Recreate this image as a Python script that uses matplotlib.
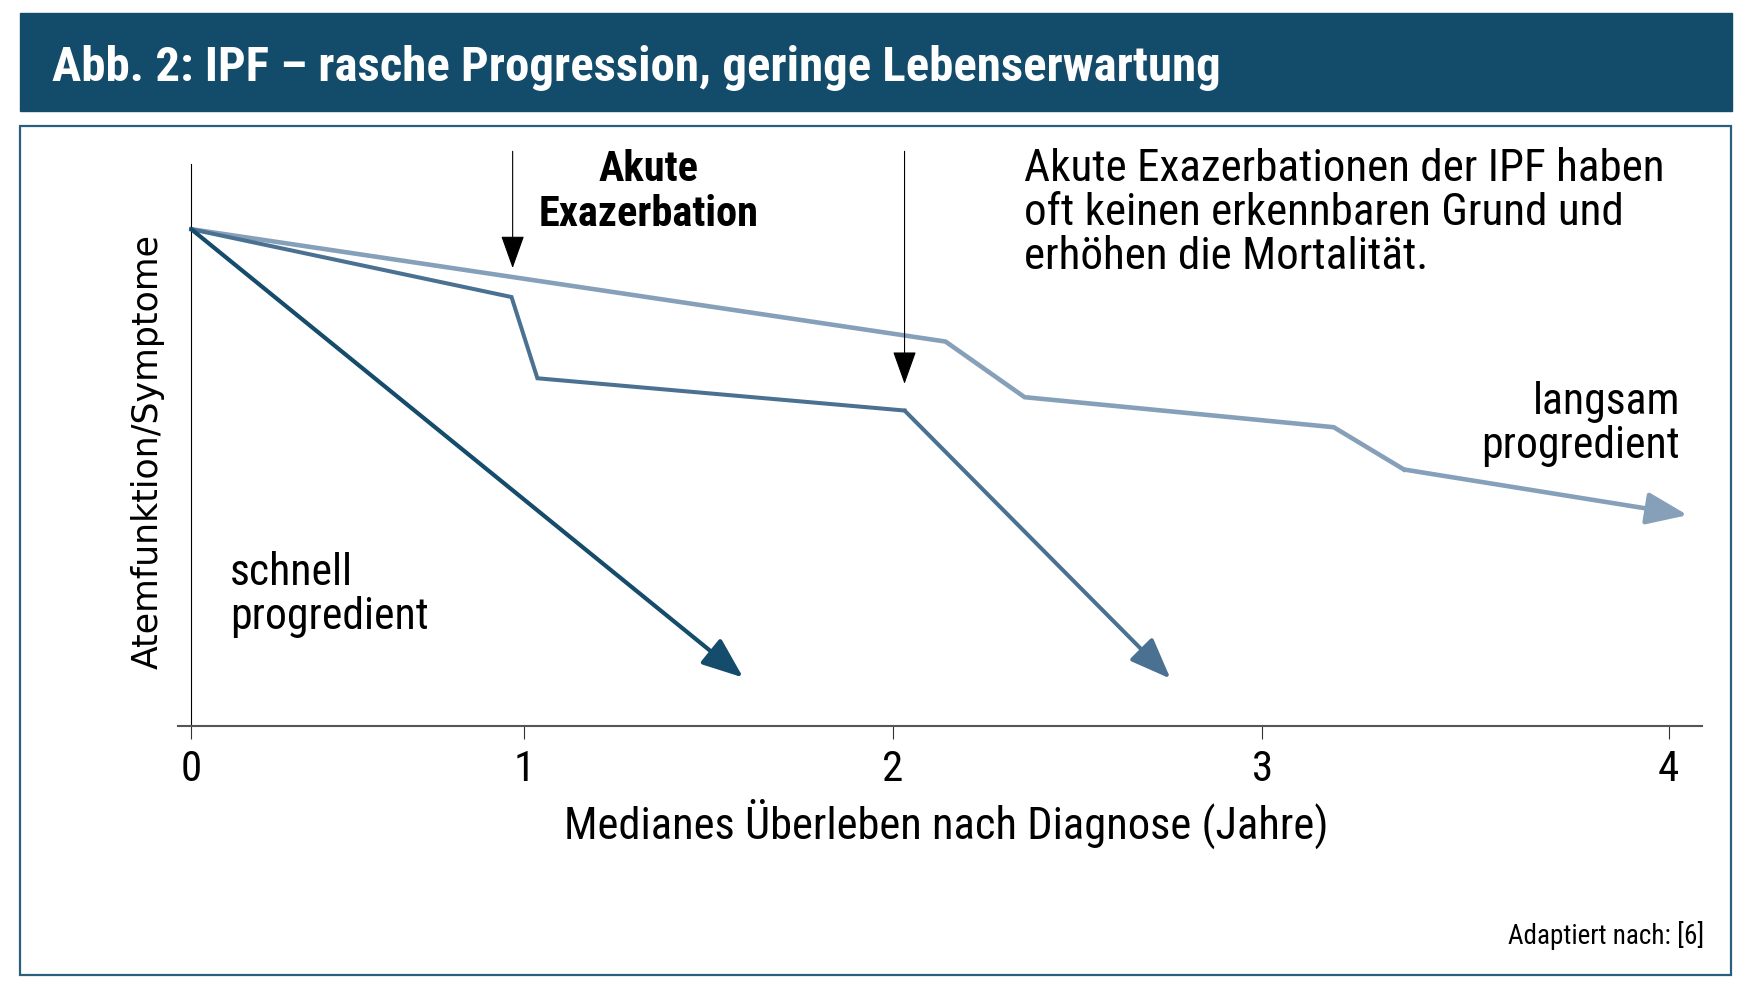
import matplotlib
matplotlib.use("Agg")
import matplotlib.pyplot as plt
from matplotlib.patches import Rectangle

plt.rcParams['font.family'] = ['Roboto Condensed', 'Archivo Narrow', 'Asap Condensed', 'DejaVu Sans']

# data (x in years, y = lung function / symptoms, arbitrary units)
slow_x = [0.0, 2.042, 2.256, 3.093, 3.283, 4.051]
slow_y = [89.4, 69.2, 59.2, 53.8, 46.2, 38.0]
mid_x = [0.0, 0.867, 0.937, 1.931, 2.651]
mid_y = [89.4, 77.2, 62.6, 56.8, 8.6]
fast_x = [0.0, 1.494]
fast_y = [89.4, 8.8]

# acute exacerbation markers: x, y top, y tip
exac_x = [0.870, 1.931]
exac_top = [103.4, 103.4]
exac_tip = [82.4, 61.6]

tick_pos = [0, 0.9, 1.9, 2.9, 4.0]
tick_lbl = ['0', '1', '2', '3', '4']

c_title = '#134c6b'
c_fast = '#154c6c'
c_mid = '#4a7191'
c_slow = '#87a0b9'

W, H = 1744, 988
fig = plt.figure(figsize=(W / 100, H / 100), dpi=100)

# header bar and frame
fig.patches.append(Rectangle((20 / W, 1 - 111 / H), 1712 / W, 98 / H,
                             transform=fig.transFigure, color=c_title, zorder=0))
fig.patches.append(Rectangle((20 / W, 1 - 975 / H), 1711 / W, 849 / H,
                             transform=fig.transFigure, fill=False,
                             edgecolor='#2b5f7e', lw=1.6, zorder=0))
fig.text(52 / W, 1 - 68 / H, 'Abb. 2: IPF – rasche Progression, geringe Lebenserwartung',
         color='white', fontsize=35.2, fontweight='bold', va='center', ha='left')

ax = fig.add_axes([178 / W, 0.2647, (1702 - 178) / W, 0.6193])
ax.set_xlim(-0.036, 4.09)
ax.set_ylim(0, 110)
ax.patch.set_alpha(0)

for s in ['top', 'right']:
    ax.spines[s].set_visible(False)
ax.spines['left'].set_position(('data', 0))
ax.spines['left'].set_bounds(0, 101.2)
ax.spines['left'].set_linewidth(0.8)
ax.spines['bottom'].set_color('#555555')
ax.spines['bottom'].set_linewidth(1.5)

ax.set_yticks([])
ax.set_xticks(tick_pos)
ax.set_xticklabels(tick_lbl)
ax.tick_params(axis='x', direction='out', length=9.5, width=0.8, color='#333333',
               labelsize=31, pad=7)

# curves
ax.plot(slow_x[:-1], slow_y[:-1], color=c_slow, lw=3.3, solid_joinstyle='miter', clip_on=False)
ax.plot(mid_x[:-1], mid_y[:-1], color=c_mid, lw=2.9, solid_joinstyle='miter', clip_on=False)
for xs, ys, c, lw in [(slow_x, slow_y, c_slow, 3.3), (mid_x, mid_y, c_mid, 2.9),
                      (fast_x, fast_y, c_fast, 3.0)]:
    ax.annotate('', xy=(xs[-1], ys[-1]), xytext=(xs[-2], ys[-2]),
                arrowprops=dict(arrowstyle='-|>,head_length=1.4,head_width=0.55',
                                mutation_scale=18, color=c, lw=lw,
                                shrinkA=0, shrinkB=0), annotation_clip=False)

for x, y0, y1 in zip(exac_x, exac_top, exac_tip):
    ax.annotate('', xy=(x, y1), xytext=(x, y0),
                arrowprops=dict(arrowstyle='-|>,head_length=2.1,head_width=0.75',
                                mutation_scale=10, color='black', lw=0.8,
                                shrinkA=0, shrinkB=0), annotation_clip=False)

# labels
fig.text(649 / W, 1 - 192 / H, 'Akute\nExazerbation', fontsize=30.5, fontweight='bold',
         ha='center', va='center', linespacing=1.12)
fig.text(1024 / W, 1 - 213 / H,
         'Akute Exazerbationen der IPF haben\noft keinen erkennbaren Grund und\nerhöhen die Mortalität.',
         fontsize=32.5, ha='left', va='center', linespacing=1.07)
fig.text(1680 / W, 1 - 424 / H, 'langsam\nprogredient', fontsize=31.5, ha='right',
         va='center', linespacing=1.09)
fig.text(230 / W, 1 - 595 / H, 'schnell\nprogredient', fontsize=31.5, ha='left',
         va='center', linespacing=1.09)
fig.text(946 / W, 1 - 824 / H, 'Medianes Überleben nach Diagnose (Jahre)', fontsize=32,
         ha='center', va='center')
fig.text(148 / W, 1 - 451 / H, 'Atemfunktion/Symptome', fontsize=25, rotation=90,
         ha='center', va='center', family=['DejaVu Sans'])
fig.text(1704 / W, 1 - 936 / H, 'Adaptiert nach: [6]', fontsize=19.5, ha='right', va='center')

fig.savefig('out.png', dpi=100)
